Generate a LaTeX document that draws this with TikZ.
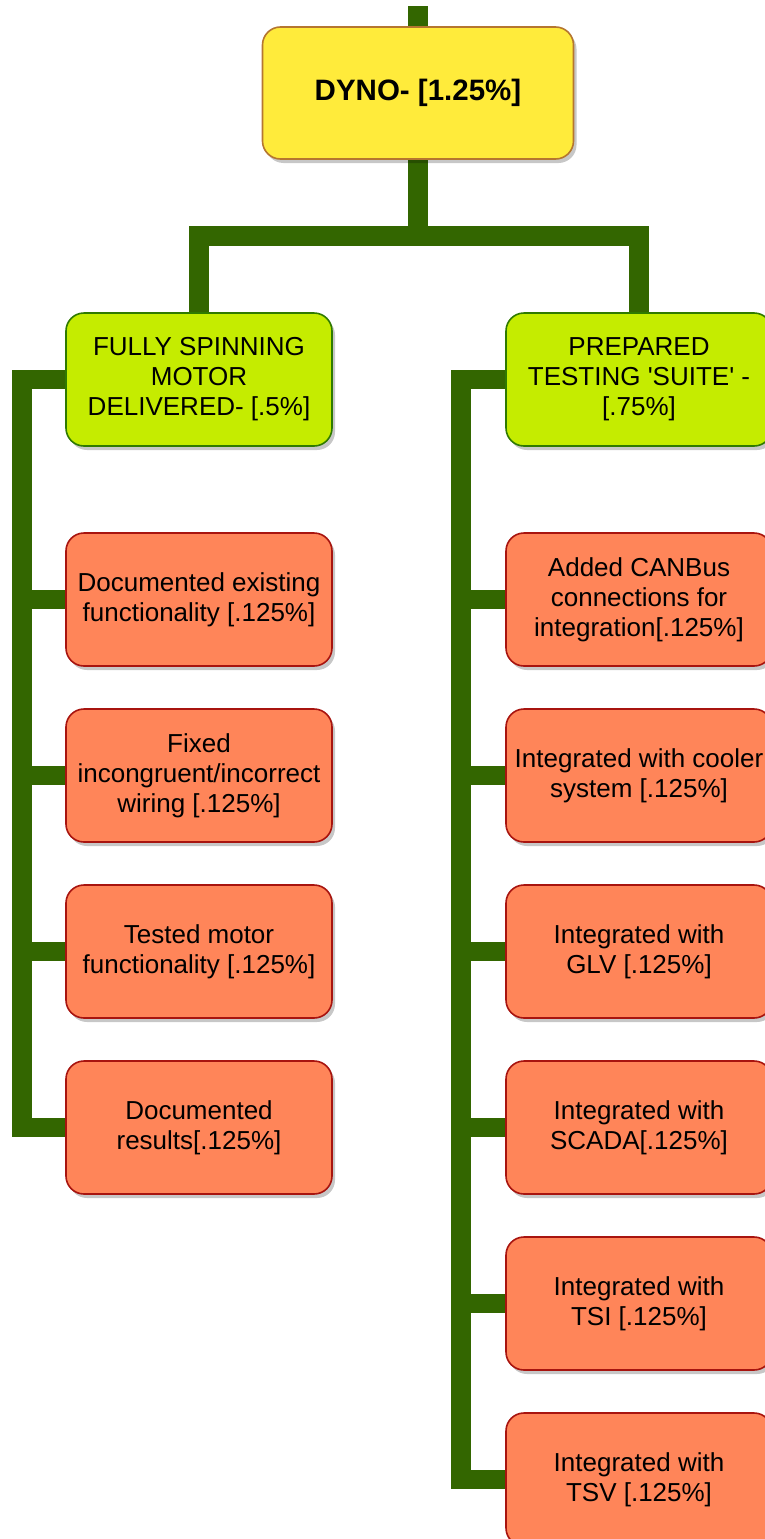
\documentclass[tikz,border=0pt]{standalone}
\usepackage{fontspec}
\setmainfont{Liberation Sans}
\usetikzlibrary{shadows,backgrounds,calc}
\definecolor{linkgreen}{HTML}{336600}
\definecolor{rootfill}{HTML}{FFEB3B}
\definecolor{rootdraw}{HTML}{B5762F}
\definecolor{limefill}{HTML}{C5EC00}
\definecolor{limedraw}{HTML}{2F7A00}
\definecolor{taskfill}{HTML}{FF8559}
\definecolor{taskdraw}{HTML}{A8140F}
\begin{document}
\begin{tikzpicture}[x=1pt,y=-1pt,
  box/.style={rounded corners=18pt, minimum width=266pt, minimum height=133pt,
    align=center, font=\fontsize{26}{30}\selectfont, line width=1.6pt,
    drop shadow={shadow xshift=3pt, shadow yshift=-4pt, fill=black, opacity=0.22}},
  rootbox/.style={box, fill=rootfill, draw=rootdraw, minimum width=311pt, minimum height=132pt,
    font=\bfseries\fontsize{29.5}{34}\selectfont},
  phasebox/.style={box, fill=limefill, draw=limedraw},
  taskbox/.style={box, fill=taskfill, draw=taskdraw},
  link/.style={draw=linkgreen, line width=19.5pt, line join=miter}]
\useasboundingbox (0,0) rectangle (765,1539);

% root
\node[rootbox] (root) at (418,93) {DYNO- [1.25\%]};

% phases
\node[phasebox] (g1) at (199,379.5) {FULLY SPINNING\\MOTOR\\DELIVERED- [.5\%]};
\node[phasebox] (g2) at (639,379.5) {PREPARED\\TESTING \textquotesingle SUITE\textquotesingle\ -\\{[.75\%]}};

% tasks of the first phase
\node[taskbox] (a1) at (199,599.5) {Documented existing\\functionality [.125\%]};
\node[taskbox] (a2) at (199,775.5) {Fixed\\incongruent/incorrect\\wiring [.125\%]};
\node[taskbox] (a3) at (199,951.5) {Tested motor\\functionality [.125\%]};
\node[taskbox] (a4) at (199,1127.5) {Documented\\results[.125\%]};

% tasks of the second phase
\node[taskbox] (b1) at (639,599.5) {Added CANBus\\connections for\\integration[.125\%]};
\node[taskbox] (b2) at (639,775.5) {Integrated with cooler\\system [.125\%]};
\node[taskbox] (b3) at (639,951.5) {Integrated with\\GLV [.125\%]};
\node[taskbox] (b4) at (639,1127.5) {Integrated with\\SCADA[.125\%]};
\node[taskbox] (b5) at (639,1303.5) {Integrated with\\TSI [.125\%]};
\node[taskbox] (b6) at (639,1479.5) {Integrated with\\TSV [.125\%]};

% connectors
\coordinate (in) at (418,6);
\coordinate (bar) at (418,236);
\coordinate (ltrunk) at (22,0);
\coordinate (rtrunk) at (461,0);
\begin{pgfonlayer}{background}
  \draw[link] (in) -- (root.north);
  \draw[link] (root.south) -- (bar);
  \draw[link] (g1.north) |- (bar) -| (g2.north);
  \draw[link] (g1.west) -| (ltrunk |- a4.west) -- (a4.west);
  \foreach \n in {a1,a2,a3}
    \draw[link] (\n.west) -- (\n.west -| ltrunk);
  \draw[link] (g2.west) -| (rtrunk |- b6.west) -- (b6.west);
  \foreach \n in {b1,b2,b3,b4,b5}
    \draw[link] (\n.west) -- (\n.west -| rtrunk);
\end{pgfonlayer}
\end{tikzpicture}
\end{document}
